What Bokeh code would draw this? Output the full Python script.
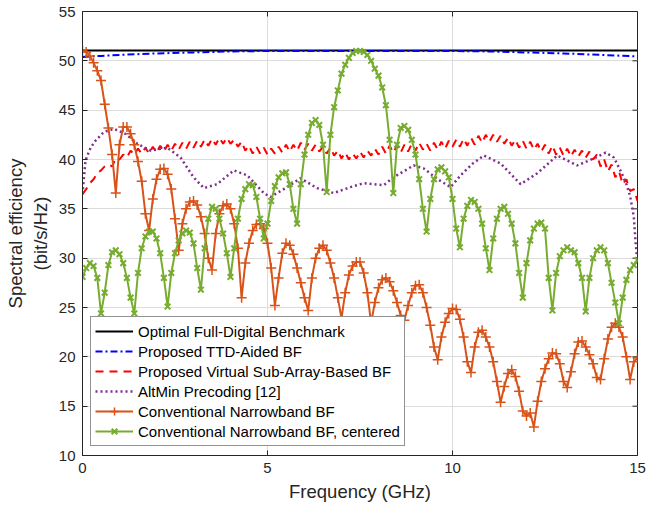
import numpy as np
from bokeh.plotting import figure
from bokeh.models import Legend, LegendItem, FixedTicker, Range1d
from bokeh.embed import file_html
from bokeh.resources import INLINE

# Frequency grid (GHz)
freq = [round(i * 0.1, 1) for i in range(151)]

# Optimal Full-Digital Benchmark
bench_f = [0, 5, 10, 15]
bench_y = [51.05, 51.05, 51.05, 51.05]

# Proposed TTD-Aided BF
ttd_f = [0, 0.5, 1, 2, 3, 4, 5, 7.5, 10, 11, 12, 13, 14, 15]
ttd_y = [50.4, 50.5, 50.6, 50.75, 50.85, 50.95, 51.0, 51.0, 51.0, 50.95, 50.85, 50.75, 50.6, 50.45]

# Proposed Virtual Sub-Array-Based BF
vsa_y = [36.5, 37.0, 37.6, 38.0, 38.6, 38.9, 39.3, 39.5, 39.3, 40.1,
         40.0, 40.5, 40.2, 40.9, 40.5, 41.1, 40.6, 41.2, 40.6, 41.3,
         40.7, 41.4, 40.8, 41.5, 40.9, 41.6, 41.0, 41.7, 41.1, 41.8,
         41.2, 41.9, 41.3, 42.0, 41.4, 42.1, 41.5, 42.2, 41.6, 42.2,
         41.6, 42.0, 41.3, 41.8, 40.9, 41.4, 40.6, 41.3, 40.6, 41.2,
         40.5, 41.1, 40.6, 41.3, 40.7, 41.5, 40.8, 41.5, 40.9, 41.7,
         41.0, 41.6, 40.9, 41.5, 40.8, 41.3, 40.6, 41.2, 40.4, 40.9,
         40.1, 40.7, 40.0, 40.6, 40.1, 40.8, 40.2, 40.9, 40.4, 41.1,
         40.5, 41.3, 40.6, 41.4, 40.7, 41.4, 40.7, 41.5, 40.8, 41.6,
         40.9, 41.7, 41.0, 41.6, 40.9, 41.7, 41.0, 41.8, 41.1, 41.9,
         41.3, 42.0, 41.3, 42.1, 41.4, 42.2, 41.5, 42.4, 41.7, 42.5,
         41.8, 42.5, 41.8, 42.4, 41.6, 42.2, 41.4, 42.0, 41.2, 41.9,
         41.1, 41.8, 41.0, 41.6, 40.8, 41.5, 40.6, 41.4, 40.5, 41.2,
         40.4, 41.1, 40.3, 41.0, 40.3, 40.9, 40.2, 40.8, 40.0, 40.5,
         39.3, 40.0, 38.8, 39.5, 38.2, 38.8, 37.5, 38.0, 36.8, 37.0,
         35.8]

# AltMin Precoding [12]
alt_f = [0, 0.08, 0.22, 0.35, 0.58, 0.85, 1.16, 1.48, 1.84, 2.29, 2.65, 3.0, 3.28, 3.64,
         4.09, 4.45, 4.9, 5.08, 5.53, 5.89, 6.34, 6.79, 7.24, 7.6, 8.14, 8.41, 8.95, 9.22,
         9.6, 9.95, 10.22, 10.55, 10.85, 11.3, 11.84, 12.29, 12.83, 13.37, 13.82, 14.14,
         14.36, 14.55, 14.7, 14.8, 14.9, 14.95, 15.0]
alt_y = [36.5, 39.9, 41.2, 41.9, 42.8, 43.1, 42.6, 41.6, 40.9, 41.2, 40.2, 38.2, 37.1, 37.5,
         38.9, 38.4, 36.6, 36.2, 37.2, 38.1, 37.1, 36.6, 37.2, 37.6, 37.4, 38.2, 39.4, 39.1,
         38.0, 37.2, 38.4, 39.6, 40.4, 39.6, 37.5, 38.6, 40.4, 39.4, 40.1, 40.7,
         40.2, 38.8, 37.5, 36.3, 34.2, 31.5, 29.5]

# Conventional Narrowband BF
nb_y = [51.0, 50.9, 50.5, 49.8, 49.0, 48.0, 45.6, 43.2, 40.5, 36.6,
        41.5, 43.3, 43.3, 42.6, 41.5, 39.8, 37.8, 34.5, 32.8, 36.0,
        38.0, 39.0, 39.1, 38.5, 37.0, 34.0, 30.8, 33.5, 35.0, 35.7,
        35.8, 35.4, 34.2, 32.5, 30.0, 28.8, 32.5, 34.5, 35.3, 35.5,
        35.0, 33.5, 31.0, 26.0, 29.5, 31.5, 32.8, 33.4, 33.5, 33.0,
        31.5, 29.0, 25.2, 28.0, 30.5, 31.5, 31.3, 30.4, 29.0, 27.5,
        26.0, 24.7, 28.0, 30.0, 31.0, 31.3, 30.8, 29.5, 28.0, 26.0,
        23.9, 26.5, 28.3, 29.2, 29.6, 29.6, 28.5, 26.5, 23.4, 25.5,
        27.0, 27.8, 28.0, 27.6, 26.7, 25.5, 24.2, 23.7, 25.2, 26.5,
        27.2, 27.3, 26.5, 25.0, 23.2, 21.0, 19.7, 22.0, 23.5, 24.4,
        24.9, 24.8, 23.8, 22.0, 19.5, 18.4, 21.0, 22.5, 22.7, 22.0,
        21.0, 19.5, 17.5, 15.4, 17.0, 18.3, 18.7, 18.0, 16.5, 14.5,
        14.0, 14.3, 12.9, 15.5, 17.5, 18.8, 19.8, 20.4, 20.3, 19.3,
        17.5, 16.9, 18.5, 20.3, 21.5, 21.6, 21.0, 20.2, 19.3, 17.9,
        17.7, 19.8, 21.8, 23.0, 23.4, 23.0, 22.0, 20.0, 17.7, 19.5,
        19.9]

# Conventional Narrowband BF, centered
nbc_y = [28.1, 29.0, 29.5, 29.2, 28.0, 24.4, 26.5, 29.3, 30.6, 30.8,
         30.4, 29.5, 28.0, 26.0, 24.4, 28.5, 31.0, 32.2, 32.7, 32.7,
         32.0, 30.5, 28.0, 25.1, 28.5, 30.5, 31.8, 32.5, 32.8, 32.6,
         31.5, 29.0, 26.8, 31.0, 34.0, 35.2, 35.0, 34.0, 32.5, 30.5,
         28.1, 31.0, 34.0, 36.0, 37.0, 37.5, 37.4, 36.2, 34.0, 32.0,
         33.5, 35.8, 37.3, 38.2, 38.6, 38.7, 37.5, 35.0, 33.5, 37.5,
         40.5, 42.5, 43.7, 44.0, 43.5, 41.5, 36.7, 42.5, 45.3, 47.0,
         48.7, 49.6, 50.3, 50.8, 51.0, 51.0, 50.9, 50.6, 50.0, 49.2,
         48.5, 47.3, 45.5, 42.0, 36.6, 41.5, 43.2, 43.4, 43.0, 42.0,
         40.5, 38.0, 35.0, 32.7, 36.0, 38.0, 39.0, 39.2, 38.8, 38.2,
         36.0, 33.0, 31.1, 34.0, 35.3, 35.9, 35.7, 35.0, 33.5, 31.0,
         28.8, 32.0, 34.0, 35.0, 35.2, 34.5, 33.5, 31.5, 28.5, 26.0,
         29.5, 31.8, 33.0, 33.5, 33.6, 33.0, 28.0, 24.7, 28.5, 30.2,
         30.8, 31.1, 30.8, 30.6, 29.5, 28.0, 24.6, 28.0, 30.0, 30.8,
         31.1, 30.8, 29.5, 27.5, 25.5, 23.4, 26.0, 27.8, 28.8, 29.3,
         29.8]

x_ticks = [0, 5, 10, 15]
y_ticks = [10, 15, 20, 25, 30, 35, 40, 45, 50, 55]
x_min, x_max = 0, 15
y_min, y_max = 10, 55

FONT = "Liberation Sans"
AX = "#262626"

p = figure(width=648, height=507, x_range=Range1d(x_min, x_max), y_range=Range1d(y_min, y_max),
           output_backend="svg", toolbar_location=None,
           min_border_left=82, min_border_right=11, min_border_top=11, min_border_bottom=52)
p.background_fill_color = "white"
p.border_fill_color = "white"
p.outline_line_color = AX
p.outline_line_width = 1

for ax in (p.xaxis[0], p.yaxis[0]):
    ax.major_label_text_font = FONT
    ax.major_label_text_font_size = "15px"
    ax.major_label_text_color = AX
    ax.axis_label_text_font = FONT
    ax.axis_label_text_font_size = "18.5px"
    ax.axis_label_text_font_style = "normal"
    ax.axis_label_text_color = AX
    ax.axis_line_color = AX
    ax.major_tick_line_color = AX
    ax.major_tick_in = 5
    ax.major_tick_out = 0
    ax.minor_tick_line_color = None
    ax.major_label_standoff = 7
    ax.axis_label_standoff = 5

p.xaxis[0].ticker = FixedTicker(ticks=x_ticks)
p.yaxis[0].ticker = FixedTicker(ticks=y_ticks)
p.xaxis[0].axis_label = "Frequency (GHz)"
p.yaxis[0].axis_label = "Spectral efficiency\n(bit/s/Hz)"

p.xgrid.ticker = FixedTicker(ticks=x_ticks)
p.ygrid.ticker = FixedTicker(ticks=y_ticks)
p.grid.grid_line_color = "#dcdcdc"
p.grid.grid_line_width = 1

# inward ticks on the top and right edges of the box
p.ray(x=x_ticks, y=[y_max] * len(x_ticks), length=5, length_units="screen",
      angle=-np.pi / 2, line_color=AX, line_width=1)
p.ray(x=[x_max] * len(y_ticks), y=y_ticks, length=5, length_units="screen",
      angle=np.pi, line_color=AX, line_width=1)

r_bench = p.line(bench_f, bench_y, line_color="black", line_width=2)
r_ttd = p.line(ttd_f, ttd_y, line_color="#0000FF", line_width=2, line_dash="7 3 2 3")
r_vsa = p.line(freq, vsa_y, line_color="#FF0000", line_width=2, line_dash="8 6")
r_alt = p.line(alt_f, alt_y, line_color="#7E2F8E", line_width=2.5, line_dash="2 3")
r_nb_l = p.line(freq, nb_y, line_color="#D95319", line_width=2)
r_nb_m = p.scatter(freq, nb_y, marker="cross", size=10, line_color="#D95319", line_width=1.5)
r_nbc_l = p.line(freq, nbc_y, line_color="#77AC30", line_width=2)
r_nbc_m = p.scatter(freq, nbc_y, marker="x", size=8, line_color="#77AC30", line_width=2)

legend = Legend(items=[
    LegendItem(label="Optimal Full-Digital Benchmark", renderers=[r_bench]),
    LegendItem(label="Proposed TTD-Aided BF", renderers=[r_ttd]),
    LegendItem(label="Proposed Virtual Sub-Array-Based BF", renderers=[r_vsa]),
    LegendItem(label="AltMin Precoding [12]", renderers=[r_alt]),
    LegendItem(label="Conventional Narrowband BF", renderers=[r_nb_l, r_nb_m]),
    LegendItem(label="Conventional Narrowband BF, centered", renderers=[r_nbc_l, r_nbc_m]),
], location=(8, 9))
legend.label_text_font = FONT
legend.label_text_font_size = "15px"
legend.label_text_color = "black"
legend.glyph_width = 38
legend.glyph_height = 20
legend.label_height = 20
legend.label_standoff = 5
legend.spacing = 0
legend.padding = 4
legend.margin = 0
legend.border_line_color = AX
legend.border_line_width = 1
legend.background_fill_color = "white"
legend.background_fill_alpha = 1.0
p.add_layout(legend, "center")

open("out.html", "w").write(file_html(p, INLINE))
